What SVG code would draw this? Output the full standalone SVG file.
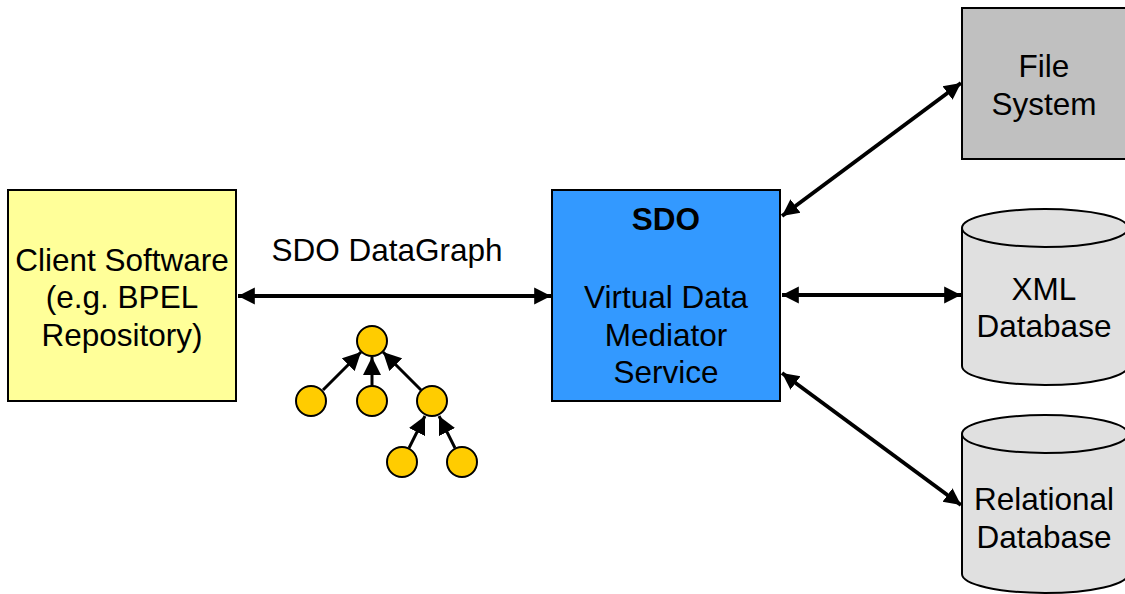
<svg xmlns="http://www.w3.org/2000/svg" width="1125" height="594" viewBox="0 0 1125 594">
  <style>
    .lbl { font-family: "Liberation Sans", Arial, sans-serif; font-size: 31.5px; fill: #000; text-anchor: middle; }
    .bold { font-weight: bold; }
    .box { stroke: #000; stroke-width: 2; }
    .conn { stroke: #000; stroke-width: 4; fill: none; }
    .tree { stroke: #000; stroke-width: 3; fill: none; }
    .dot { fill: #FFCC00; stroke: #000; stroke-width: 2; }
  </style>
  <defs>
    <marker id="ah" viewBox="0 0 10 10" refX="10" refY="5" markerWidth="4.2" markerHeight="4.8" orient="auto-start-reverse" markerUnits="strokeWidth">
      <path d="M0,0 L10,5 L0,10 z" fill="#000"/>
    </marker>
    <marker id="th" viewBox="0 0 10 10" refX="10" refY="5" markerWidth="6" markerHeight="6" orient="auto" markerUnits="strokeWidth">
      <path d="M0,0 L10,5 L0,10 z" fill="#000"/>
    </marker>
  </defs>

  <rect width="1125" height="594" fill="#fff"/>

  <g id="connectors">
    <line class="conn" x1="238" y1="296" x2="551" y2="296" marker-start="url(#ah)" marker-end="url(#ah)"/>
    <line class="conn" x1="782" y1="216" x2="961" y2="83" marker-start="url(#ah)" marker-end="url(#ah)"/>
    <line class="conn" x1="782" y1="295" x2="961" y2="295" marker-start="url(#ah)" marker-end="url(#ah)"/>
    <line class="conn" x1="782" y1="373" x2="961" y2="505" marker-start="url(#ah)" marker-end="url(#ah)"/>
  </g>

  <g id="client">
    <rect class="box" x="8" y="190" width="228" height="211" fill="#FFFF99"/>
    <text class="lbl" x="122" y="271">Client Software</text>
    <text class="lbl" x="122" y="308">(e.g. BPEL</text>
    <text class="lbl" x="122" y="346">Repository)</text>
  </g>

  <g id="datagraph-label">
    <text class="lbl" x="387" y="261">SDO DataGraph</text>
  </g>

  <g id="datagraph-tree">
    <line class="tree" x1="323" y1="390" x2="361" y2="352" marker-end="url(#th)"/>
    <line class="tree" x1="372" y1="386" x2="372" y2="357" marker-end="url(#th)"/>
    <line class="tree" x1="421" y1="390" x2="383" y2="352" marker-end="url(#th)"/>
    <line class="tree" x1="409" y1="448" x2="425" y2="416" marker-end="url(#th)"/>
    <line class="tree" x1="455" y1="448" x2="439" y2="416" marker-end="url(#th)"/>
    <circle class="dot" cx="372" cy="341" r="15"/>
    <circle class="dot" cx="311" cy="401" r="15"/>
    <circle class="dot" cx="372" cy="401" r="15"/>
    <circle class="dot" cx="432" cy="401" r="15"/>
    <circle class="dot" cx="402" cy="462" r="15"/>
    <circle class="dot" cx="462" cy="462" r="15"/>
  </g>

  <g id="sdo">
    <rect class="box" x="552" y="190" width="228" height="211" fill="#3399FF"/>
    <text class="lbl bold" x="666" y="230">SDO</text>
    <text class="lbl" x="666" y="308">Virtual Data</text>
    <text class="lbl" x="666" y="346">Mediator</text>
    <text class="lbl" x="666" y="383">Service</text>
  </g>

  <g id="file-system">
    <rect class="box" x="962" y="8" width="170" height="151" fill="#C0C0C0"/>
    <text class="lbl" x="1044" y="77">File</text>
    <text class="lbl" x="1044" y="115">System</text>
  </g>

  <g id="xml-db">
    <path class="box" d="M962,228 L962,366 A83,19 0 0 0 1128,366 L1128,228" fill="#E0E0E0"/>
    <ellipse class="box" cx="1045" cy="228" rx="83" ry="19" fill="#E0E0E0"/>
    <text class="lbl" x="1044" y="300">XML</text>
    <text class="lbl" x="1044" y="337">Database</text>
  </g>

  <g id="relational-db">
    <path class="box" d="M962,434 L962,574 A83,19 0 0 0 1128,574 L1128,434" fill="#E0E0E0"/>
    <ellipse class="box" cx="1045" cy="434" rx="83" ry="19" fill="#E0E0E0"/>
    <text class="lbl" x="1044" y="510">Relational</text>
    <text class="lbl" x="1044" y="548">Database</text>
  </g>
</svg>
